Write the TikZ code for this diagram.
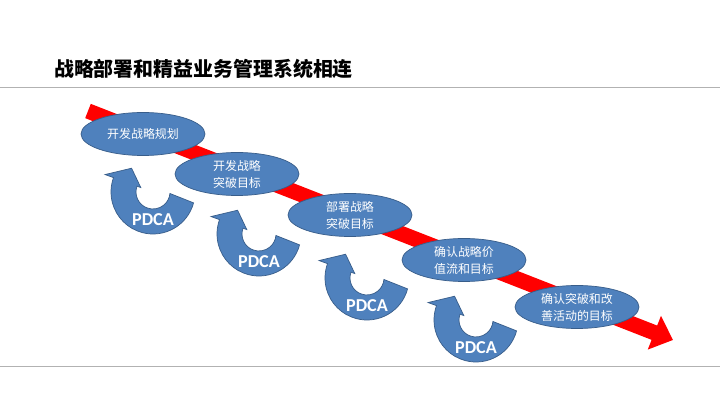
\documentclass[tikz,border=0pt]{standalone}
\usepackage{fontspec}
\setmainfont{Carlito}
\newfontfamily\cjk{Noto Sans CJK SC}
\usetikzlibrary{arrows.meta,shapes.geometric}

\definecolor{officeblue}{HTML}{4F81BD}
\definecolor{officeedge}{HTML}{385D8A}

\tikzset{
	stage/.style={ellipse, fill=officeblue, draw=officeedge, line width=0.6pt,
		minimum width=3.72cm, minimum height=1.29cm, inner sep=0pt, align=center,
		text=white, font=\cjk\fontsize{10.2pt}{14.5pt}\selectfont},
	flow/.style={red, line width=0.46cm, -{Triangle[length=0.6cm, width=1.05cm]}},
	rule/.style={gray!60, line width=0.8pt},
	pdca/.pic={
		\path[fill=officeblue, draw=officeedge, line width=0.6pt]
			(-15:42) arc[start angle=-15, end angle=-200, radius=42]
			-- (-200:51) -- (-228:32) -- (-200:13) -- (-200:17)
			arc[start angle=-200, end angle=-5, radius=17] -- cycle;
		\node[text=white, font=\bfseries\fontsize{15.5pt}{18pt}\selectfont] (-label) at (0,-28) {PDCA};
	}
}

\begin{document}
\begin{tikzpicture}[x=0.03cm, y=0.03cm]
		\useasboundingbox[fill=white] (0,-405) rectangle (720,0);
		\node[anchor=west, font=\cjk\bfseries\fontsize{17pt}{20pt}\selectfont] (title) at (50,-69) {战略部署和精益业务管理系统相连};
		\draw[rule] (0,-87) -- (720,-87);
		\draw[rule] (0,-366) -- (720,-366);
		\coordinate (start) at (88,-111);
		\coordinate (end) at (673,-340);
		\draw[flow] (start) -- (end);
		\node[stage] (plan) at (143,-134) {开发战略规划};
		\node[stage] (goal) at (237,-174) {开发战略\\突破目标};
		\node[stage] (deploy) at (350,-215) {部署战略\\突破目标};
		\node[stage] (value) at (464,-260) {确认战略价\\值流和目标};
		\node[stage] (improve) at (577,-307) {确认突破和改\\善活动的目标};
		\pic (cycleA) at (153,-192) {pdca};
		\pic (cycleB) at (259,-234) {pdca};
		\pic (cycleC) at (367,-278) {pdca};
		\pic (cycleD) at (476,-320) {pdca};
	\end{tikzpicture}
\end{document}
